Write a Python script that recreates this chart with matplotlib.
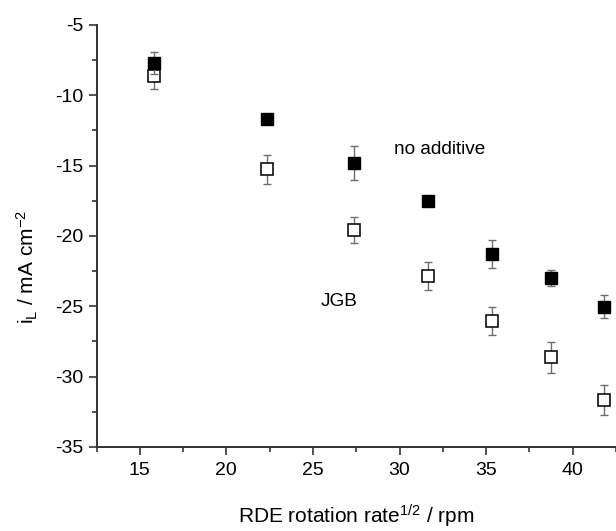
import matplotlib
matplotlib.use("Agg")
import matplotlib.pyplot as plt
import numpy as np

plt.rcParams['font.family'] = ['Liberation Sans', 'DejaVu Sans']
plt.rcParams['mathtext.default'] = 'regular'
plt.rcParams['axes.unicode_minus'] = False

# Data
rotation_sqrt = [15.81, 22.36, 27.39, 31.62, 35.36, 38.73, 41.83]
no_additive = [-7.68, -11.70, -14.81, -17.48, -21.25, -23.0, -25.02]
no_additive_err = [0.78, 0.35, 1.2, 0.3, 1.0, 0.55, 0.8]
jgb = [-8.6, -15.26, -19.58, -22.83, -26.02, -28.62, -31.65]
jgb_err = [0.97, 1.02, 0.92, 0.98, 1.0, 1.1, 1.05]
xticks = [15, 20, 25, 30, 35, 40]
yticks = [-5, -10, -15, -20, -25, -30, -35]

fig = plt.figure(figsize=(6.16, 5.31), dpi=100)
ax = fig.add_axes([96.5/616, 84/531, 1 - 96.5/616, (447-25)/531])

ax.errorbar(rotation_sqrt, jgb, yerr=jgb_err, fmt='none', ecolor='#6e6e6e',
            elinewidth=1.0, capsize=3.2, capthick=1.0, zorder=2)
ax.plot(rotation_sqrt, jgb, 's', ms=8.2, mfc='white', mec='#111111', mew=1.2,
        zorder=3, clip_on=False)
ax.errorbar(rotation_sqrt, no_additive, yerr=no_additive_err, fmt='none',
            ecolor='#6e6e6e', elinewidth=1.0, capsize=3.2, capthick=1.0, zorder=4)
ax.plot(rotation_sqrt, no_additive, 's', ms=8.2, mfc='black', mec='black', mew=1.0,
        zorder=5, clip_on=False)

ax.text(29.66, -13.88, 'no additive', fontsize=13.7, va='center', ha='left')
ax.text(25.46, -24.65, 'JGB', fontsize=13.7, va='center', ha='left')

ax.set_xlim(12.5, 42.5)
ax.set_ylim(-35, -5)
ax.set_xticks(xticks)
ax.set_yticks(yticks)
ax.set_xticks([12.5 + 5*i for i in range(7)], minor=True)
ax.set_yticks([-7.5 - 5*i for i in range(6)], minor=True)

for s in ['top', 'right']:
    ax.spines[s].set_visible(False)
for s in ['left', 'bottom']:
    ax.spines[s].set_linewidth(1.4)
    ax.spines[s].set_color('#333333')
ax.tick_params(which='major', direction='out', length=6, width=1.2,
               labelsize=14, color='#333333')
ax.tick_params(axis='x', which='major', pad=5)
ax.tick_params(axis='y', which='major', pad=3.5)
ax.tick_params(which='minor', direction='out', length=3.5, width=1.2, color='#333333')

ax.set_xlabel('RDE rotation rate$^{1/2}$ / rpm', fontsize=15)
ax.set_ylabel('i$_L$ / mA cm$^{-2}$', fontsize=15)
ax.xaxis.set_label_coords(0.5, -0.133)
ax.yaxis.set_label_coords(-0.109, 0.4265)

fig.savefig('out.png', dpi=100)
